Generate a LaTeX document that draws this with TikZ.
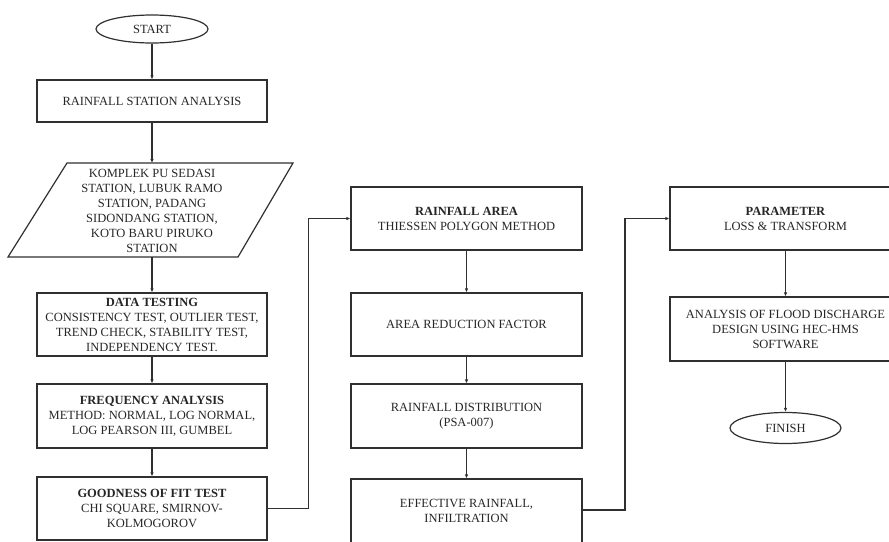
\documentclass[tikz,border=0pt]{standalone}
\usepackage{fontspec}
\setmainfont{Liberation Serif}
\usetikzlibrary{shapes.geometric,arrows.meta}
\definecolor{ink}{HTML}{262626}
\definecolor{linec}{HTML}{303030}
\begin{document}
\begin{tikzpicture}[x=1pt,y=1pt,
  every node/.style={text=ink,font=\fontsize{12.5}{15}\selectfont},
  box/.style={draw=linec,line width=1.2pt,minimum width=230pt,align=center,inner sep=2pt},
  oval/.style={draw=linec,line width=1.2pt,ellipse,inner sep=0pt},
  arr/.style={draw=linec,line width=1.2pt,-{Latex[length=4pt,width=3.5pt]}}]
\useasboundingbox (0,0) rectangle (889,-541);
\clip (0,0) rectangle (889,-541);
% column 1
\node[oval,minimum width=112pt,minimum height=28pt] (start) at (152,-29) {START};
\node[box,minimum height=42pt] (rsa) at (152,-101) {RAINFALL STATION ANALYSIS};
\draw[draw=linec,line width=1.2pt] (67,-163) -- (293,-163) -- (238,-257) -- (8,-257) -- cycle;
\coordinate (sttop) at (152,-163);
\coordinate (stbot) at (152,-257);
\node[align=center] (stations) at (152,-211) {KOMPLEK PU SEDASI\\STATION, LUBUK RAMO\\STATION, PADANG\\SIDONDANG STATION,\\KOTO BARU PIRUKO\\STATION};
\node[box,minimum height=63pt] (dt) at (152,-324.5) {\textbf{DATA TESTING}\\CONSISTENCY TEST, OUTLIER TEST,\\TREND CHECK, STABILITY TEST,\\INDEPENDENCY TEST.};
\node[box,minimum height=64pt] (fa) at (152,-416) {\textbf{FREQUENCY ANALYSIS}\\METHOD: NORMAL, LOG NORMAL,\\LOG PEARSON III, GUMBEL};
\node[box,minimum height=63pt] (gof) at (152,-508.5) {\textbf{GOODNESS OF FIT TEST}\\CHI SQUARE, SMIRNOV-\\KOLMOGOROV};
% column 2
\node[box,minimum width=231pt,minimum height=63pt] (ra) at (466.5,-218.5) {\textbf{RAINFALL AREA}\\THIESSEN POLYGON METHOD};
\node[box,minimum width=231pt,minimum height=63pt] (arf) at (466.5,-324.5) {AREA REDUCTION FACTOR};
\node[box,minimum width=231pt,minimum height=64pt] (rd) at (466.5,-416) {RAINFALL DISTRIBUTION\\(PSA-007)};
\node[box,minimum width=231pt,minimum height=64pt] (er) at (466.5,-511) {EFFECTIVE RAINFALL,\\INFILTRATION};
% column 3
\node[box,minimum width=231pt,minimum height=63pt] (par) at (785.5,-218.5) {\textbf{PARAMETER}\\LOSS \& TRANSFORM};
\node[box,minimum width=231pt,minimum height=64pt] (afd) at (785.5,-329) {ANALYSIS OF FLOOD DISCHARGE\\DESIGN USING HEC-HMS\\SOFTWARE};
\node[oval,minimum width=111pt,minimum height=31pt] (fin) at (785.5,-428) {FINISH};
% connectors
\draw[arr] (start) -- (rsa);
\draw[arr] (rsa) -- (sttop);
\draw[arr] (stbot) -- (dt);
\draw[arr] (dt) -- (fa);
\draw[arr] (fa) -- (gof);
\draw[arr] (gof.east) -- ++(41,0) |- (ra.west);
\draw[arr] (ra) -- (arf);
\draw[arr] (arf) -- (rd);
\draw[arr] (rd) -- (er);
\draw[arr] (er.east |- 0,-510) -- (625,-510) |- (par.west);
\draw[arr] (par) -- (afd);
\draw[arr] (afd) -- (fin);
\end{tikzpicture}
\end{document}
